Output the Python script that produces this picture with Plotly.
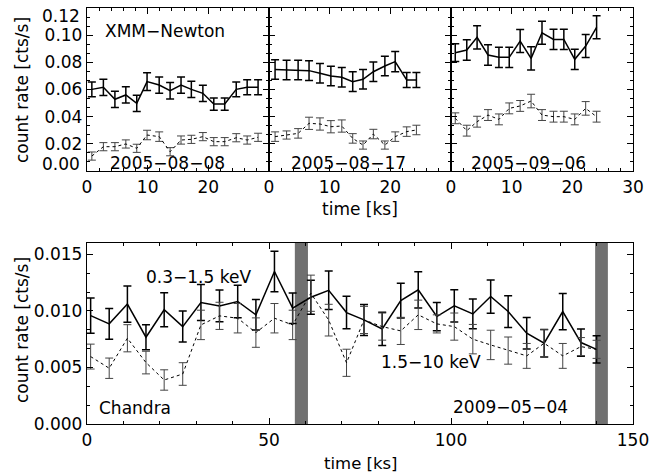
import plotly.graph_objects as go

# ---------------- data ----------------
# XMM-Newton, 2005-08-08
p1_t = [0.8, 2.7, 4.6, 6.4, 8.2, 9.9, 11.9, 13.7, 15.5, 17.2, 19.1, 20.9, 22.7, 24.6, 26.4, 28.2]
p1_soft = [0.0601, 0.0616, 0.0528, 0.0560, 0.0498, 0.0658, 0.0633, 0.0591, 0.0633, 0.0601, 0.0572, 0.0493, 0.0493, 0.0601, 0.0616, 0.0616]
p1_soft_err = [0.0055, 0.006, 0.006, 0.006, 0.006, 0.0065, 0.006, 0.006, 0.006, 0.006, 0.006, 0.0045, 0.0045, 0.0055, 0.0055, 0.0055]
p1_hard = [0.0110, 0.0179, 0.0179, 0.0199, 0.0167, 0.0265, 0.0253, 0.0142, 0.0228, 0.0233, 0.0253, 0.0216, 0.0216, 0.0245, 0.0228, 0.0248]
p1_hard_err = [0.003, 0.003, 0.003, 0.003, 0.003, 0.0035, 0.0035, 0.003, 0.003, 0.003, 0.003, 0.003, 0.003, 0.003, 0.003, 0.003]

# XMM-Newton, 2005-08-17
p2_t = [1.0, 2.9, 4.8, 6.6, 8.4, 10.2, 12.0, 13.8, 15.5, 17.2, 19.1, 20.8, 22.7, 24.3]
p2_soft = [0.0748, 0.0744, 0.0744, 0.0739, 0.0719, 0.0700, 0.0690, 0.0658, 0.0675, 0.0731, 0.0773, 0.0805, 0.0670, 0.0670]
p2_soft_err = [0.0072, 0.0072, 0.0072, 0.0072, 0.0072, 0.0072, 0.0072, 0.0072, 0.0072, 0.0072, 0.0072, 0.0075, 0.0055, 0.0055]
p2_hard = [0.0253, 0.0265, 0.0277, 0.0351, 0.0346, 0.0326, 0.0331, 0.0240, 0.0191, 0.0272, 0.0191, 0.0253, 0.0290, 0.0302]
p2_hard_err = [0.0035, 0.003, 0.0035, 0.0045, 0.0045, 0.0045, 0.0045, 0.0035, 0.003, 0.0035, 0.003, 0.0035, 0.0035, 0.0035]

# XMM-Newton, 2005-09-06
p3_t = [0.7, 2.6, 4.3, 6.1, 7.9, 9.6, 11.4, 13.2, 15.0, 16.9, 18.6, 20.4, 22.2, 24.0]
p3_soft = [0.0871, 0.0891, 0.0984, 0.0854, 0.0837, 0.0837, 0.0957, 0.0829, 0.1018, 0.0969, 0.0969, 0.0822, 0.0920, 0.1058]
p3_soft_err = [0.0065, 0.0075, 0.0085, 0.0075, 0.0075, 0.0075, 0.0085, 0.0085, 0.0085, 0.0075, 0.0075, 0.0075, 0.0085, 0.0085]
p3_hard = [0.0388, 0.0297, 0.0363, 0.0412, 0.0380, 0.0461, 0.0479, 0.0515, 0.0412, 0.0400, 0.0400, 0.0380, 0.0461, 0.0400]
p3_hard_err = [0.004, 0.004, 0.004, 0.004, 0.004, 0.004, 0.004, 0.005, 0.004, 0.004, 0.004, 0.004, 0.005, 0.004]

# Chandra, 2009-05-04
ch_t = [1.0, 6.1, 11.1, 16.2, 21.2, 26.3, 31.3, 36.4, 41.4, 46.4, 51.5, 56.5, 61.5, 66.4, 71.3,
        76.1, 81.1, 86.2, 91.0, 96.1, 100.9, 106.0, 110.9, 115.7, 120.8, 125.6, 130.7, 135.7, 140.0]
ch_soft = [0.00958, 0.00885, 0.01060, 0.00767, 0.01010, 0.00861, 0.01074, 0.01044, 0.01083, 0.00965,
           0.01348, 0.01024, 0.01120, 0.01182, 0.00985, 0.00920, 0.00840, 0.01091, 0.01186, 0.00950,
           0.01044, 0.00973, 0.01127, 0.00994, 0.00802, 0.00714, 0.00994, 0.00720, 0.00660]
ch_soft_err = [0.00155, 0.00135, 0.0016, 0.0011, 0.0015, 0.00137, 0.0016, 0.0014, 0.00143, 0.00135,
               0.0018, 0.00135, 0.0015, 0.0017, 0.00144, 0.00137, 0.00147, 0.00154, 0.0016, 0.00125,
               0.00143, 0.00132, 0.00147, 0.0014, 0.0014, 0.00122, 0.0016, 0.0012, 0.0012]
ch_hard = [0.00596, 0.00493, 0.00758, 0.00543, 0.00389, 0.00442, 0.00876, 0.00956, 0.00935, 0.00808,
           0.00935, 0.00876, 0.01156, 0.00918, 0.00541, 0.00920, 0.00861, 0.00823, 0.00965, 0.00885,
           0.00861, 0.00750, 0.00699, 0.00649, 0.00602, 0.00714, 0.00602, 0.00684, 0.00660]
ch_hard_err = [0.0011, 0.0009, 0.0012, 0.0010, 0.0009, 0.0010, 0.0013, 0.0012, 0.0013, 0.0013,
               0.0013, 0.0013, 0.0016, 0.0014, 0.0012, 0.0012, 0.0012, 0.0012, 0.0013, 0.0008,
               0.0012, 0.0013, 0.0013, 0.0012, 0.0011, 0.0012, 0.0011, 0.0008, 0.0008]

# data gaps (shaded) in the Chandra light curve [ks]
gaps = [(57.1, 60.7), (139.6, 143.1)]

top_xticks_12 = [0, 10, 20]
top_xticks_3 = [0, 10, 20, 30]
top_yticks = [0.00, 0.02, 0.04, 0.06, 0.08, 0.10, 0.12]
top_ytext = ["", "0.02", "0.04", "0.06", "0.08", "0.10", ""]   # end labels drawn nudged inward below
bot_xticks = [0, 50, 100, 150]
bot_yticks = [0.000, 0.005, 0.010, 0.015]

# ---------------- figure ----------------
W, H = 665, 475
FONT = "DejaVu Sans"
FS = 17

def px(x):
    return x / W

def py(y):
    return 1 - y / H

fig = go.Figure()

def add_pair(t, soft, serr, hard, herr, xa, ya):
    fig.add_trace(go.Scatter(
        x=t, y=soft, mode="lines", xaxis=xa, yaxis=ya, showlegend=False,
        line=dict(color="black", width=1.5),
        error_y=dict(type="data", array=serr, visible=True, color="black", thickness=1.5, width=4)))
    fig.add_trace(go.Scatter(
        x=t, y=hard, mode="lines", xaxis=xa, yaxis=ya, showlegend=False,
        line=dict(color="black", width=1, dash="dot"),
        error_y=dict(type="data", array=herr, visible=True, color="#444444", thickness=1, width=4)))

add_pair(p1_t, p1_soft, p1_soft_err, p1_hard, p1_hard_err, "x", "y")
add_pair(p2_t, p2_soft, p2_soft_err, p2_hard, p2_hard_err, "x2", "y2")
add_pair(p3_t, p3_soft, p3_soft_err, p3_hard, p3_hard_err, "x3", "y3")
add_pair(ch_t, ch_soft, ch_soft_err, ch_hard, ch_hard_err, "x4", "y4")

for g0, g1 in gaps:
    fig.add_shape(type="rect", xref="x4", yref="y4 domain", x0=g0, x1=g1, y0=0, y1=1,
                  fillcolor="#707070", line=dict(width=0), layer="below")

common = dict(showline=True, linecolor="black", linewidth=1.3, mirror="ticks",
              ticks="inside", ticklen=6, tickwidth=1, tickcolor="black",
              showgrid=False, zeroline=False, automargin=False,
              ticklabeloverflow="allow",
              tickfont=dict(family=FONT, size=FS, color="black"))

def minor(d):
    return dict(tick0=0, dtick=d, ticklen=3, ticks="inside", tickcolor="black", tickwidth=1, showgrid=False)

top_y0, top_y1 = py(171), py(8)
bot_y0, bot_y1 = py(424), py(243)
xs = [87, 269, 451, 633]
yr_top = [0, 0.12001]
yr_bot = [0, 0.016]

fig.update_layout(
    width=W, height=H, margin=dict(l=0, r=0, t=0, b=0),
    plot_bgcolor="white", paper_bgcolor="white",
    font=dict(family=FONT, size=FS, color="black"),
    xaxis=dict(domain=[px(xs[0]), px(xs[1])], range=[0, 30], anchor="y",
               tickvals=top_xticks_12, minor=minor(2), **common),
    xaxis2=dict(domain=[px(xs[1]), px(xs[2])], range=[0, 30], anchor="y2",
                tickvals=top_xticks_12, minor=minor(2), **common),
    xaxis3=dict(domain=[px(xs[2]), px(xs[3])], range=[0, 30], anchor="y3",
                tickvals=top_xticks_3, minor=minor(2), **common),
    yaxis=dict(domain=[top_y0, top_y1], range=yr_top, anchor="x",
               tickvals=top_yticks, ticktext=top_ytext, minor=minor(0.02 / 3), **common),
    yaxis2=dict(domain=[top_y0, top_y1], range=yr_top, anchor="x2",
                tickvals=top_yticks, showticklabels=False, minor=minor(0.02 / 3), **common),
    yaxis3=dict(domain=[top_y0, top_y1], range=yr_top, anchor="x3",
                tickvals=top_yticks, showticklabels=False, minor=minor(0.02 / 3), **common),
    xaxis4=dict(domain=[px(xs[0]), px(xs[3])], range=[0, 150], anchor="y4",
                tickvals=bot_xticks, minor=minor(10), **common),
    yaxis4=dict(domain=[bot_y0, bot_y1], range=yr_bot, anchor="x4",
                tickvals=bot_yticks, tickformat=".3f", minor=minor(0.005 / 3), **common),
)

def note(text, x, y, angle=0, xanchor="center", size=FS):
    fig.add_annotation(text=text, x=px(x), y=py(y), xref="paper", yref="paper",
                       showarrow=False, xanchor=xanchor, yanchor="middle", textangle=angle,
                       font=dict(family=FONT, size=size, color="black"))

note("0.12", 82, 16, xanchor="right")
note("0.00", 82, 164, xanchor="right")
note("XMM\u2212Newton", 165, 31)
note("2005\u221208\u221208", 167, 163)
note("2005\u221208\u221217", 348, 163)
note("2005\u221209\u221206", 528, 163)
note("0.3\u22121.5 keV", 198, 277)
note("1.5\u221210 keV", 431, 362)
note("Chandra", 135, 408)
note("2009\u221205\u221204", 510, 407)
note("count rate [cts/s]", 22, 90, -90)
note("count rate [cts/s]", 22, 330, -90)
note("time [ks]", 360, 209)
note("time [ks]", 361, 463, size=16.5)

fig.write_html("out.html")
